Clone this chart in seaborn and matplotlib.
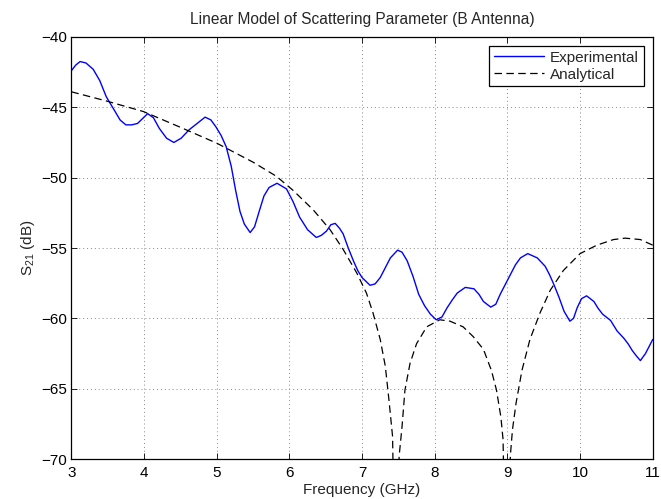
import numpy as np
import pandas as pd
import matplotlib
matplotlib.use("Agg")
import matplotlib.pyplot as plt
import seaborn as sns

# Experimental S21 curve (GHz, dB)
exp_freq = [3.00, 3.06, 3.12, 3.20, 3.30, 3.39, 3.48, 3.59, 3.67, 3.75, 3.83, 3.91,
            3.98, 4.05, 4.13, 4.21, 4.31, 4.41, 4.51, 4.62, 4.73, 4.84, 4.92, 4.99,
            5.06, 5.13, 5.20, 5.26, 5.32, 5.38, 5.46, 5.52, 5.59, 5.65, 5.72, 5.83,
            5.96, 6.05, 6.14, 6.25, 6.37, 6.44, 6.51, 6.57, 6.63, 6.69, 6.74, 6.81,
            6.88, 6.94, 7.00, 7.11, 7.18, 7.25, 7.32, 7.39, 7.49, 7.55, 7.62, 7.70,
            7.78, 7.86, 7.94, 8.02, 8.10, 8.17, 8.24, 8.31, 8.42, 8.54, 8.61, 8.67,
            8.77, 8.84, 8.90, 8.97, 9.04, 9.11, 9.18, 9.28, 9.41, 9.52, 9.58, 9.64,
            9.71, 9.78, 9.86, 9.91, 9.96, 10.02, 10.09, 10.19, 10.25, 10.31, 10.42,
            10.51, 10.60, 10.66, 10.72, 10.78, 10.83, 10.90, 10.95, 11.00]
exp_db = [-42.4, -42.0, -41.75, -41.85, -42.3, -43.1, -44.25, -45.2, -45.9, -46.25,
          -46.25, -46.15, -45.8, -45.45, -45.75, -46.5, -47.2, -47.5, -47.2, -46.6,
          -46.15, -45.7, -45.9, -46.4, -47.0, -47.8, -49.2, -50.9, -52.4, -53.3,
          -53.9, -53.5, -52.3, -51.3, -50.7, -50.4, -50.8, -51.7, -52.8, -53.7,
          -54.25, -54.1, -53.8, -53.35, -53.25, -53.6, -54.0, -55.0, -55.9, -56.6,
          -57.1, -57.65, -57.55, -57.1, -56.4, -55.7, -55.15, -55.3, -55.9, -57.0,
          -58.3, -59.1, -59.7, -60.1, -59.9, -59.25, -58.7, -58.2, -57.8, -57.9,
          -58.3, -58.8, -59.2, -59.0, -58.3, -57.6, -56.9, -56.2, -55.7, -55.4,
          -55.7, -56.3, -56.9, -57.6, -58.5, -59.5, -60.2, -60.0, -59.25, -58.6,
          -58.4, -58.8, -59.3, -59.7, -60.15, -60.9, -61.4, -61.8, -62.3, -62.7,
          -63.0, -62.5, -62.0, -61.5]

# Analytical S21 curve (GHz, dB)
ana_freq = [3.00, 3.48, 3.99, 4.49, 5.00, 5.50, 5.82, 6.05, 6.33, 6.56, 6.74, 6.93,
            7.06, 7.15, 7.25, 7.32, 7.37, 7.42, 7.47, 7.51, 7.55, 7.59, 7.66, 7.75,
            7.89, 8.07, 8.21, 8.39, 8.53, 8.67, 8.78, 8.85, 8.91, 8.94, 9.00, 9.04,
            9.07, 9.12, 9.20, 9.31, 9.45, 9.59, 9.77, 10.00, 10.23, 10.46, 10.62,
            10.83, 11.00]
ana_db = [-43.9, -44.55, -45.3, -46.4, -47.55, -48.9, -49.9, -50.9, -52.3, -53.7,
          -55.1, -56.8, -58.2, -59.6, -61.5, -63.4, -65.8, -68.4, -85.0, -69.8,
          -67.7, -65.1, -63.2, -61.8, -60.6, -60.1, -60.2, -60.6, -61.3, -62.2,
          -63.7, -65.1, -67.0, -68.6, -85.0, -69.8, -67.9, -66.0, -63.7, -61.5,
          -59.6, -58.0, -56.6, -55.4, -54.8, -54.4, -54.3, -54.4, -54.8]

df_exp = pd.DataFrame({"f": exp_freq, "s": exp_db})
df_ana = pd.DataFrame({"f": ana_freq, "s": ana_db})

sns.set_theme(style="white")
plt.rcParams["font.family"] = ["Liberation Sans", "DejaVu Sans"]
plt.rcParams["mathtext.fontset"] = "custom"
plt.rcParams["mathtext.rm"] = "Liberation Sans"
plt.rcParams["mathtext.it"] = "Liberation Sans"

fig = plt.figure(figsize=(6.61, 4.99), dpi=100)
ax = fig.add_axes([0.108, 0.080, 0.8795, 0.846])

DASH = [6, 3.5]
sns.lineplot(data=df_exp, x="f", y="s", ax=ax, color="#0000ff", lw=1.0,
             label="Experimental", sort=False, estimator=None)
sns.lineplot(data=df_ana, x="f", y="s", ax=ax, color="black", lw=0.9,
             label="Analytical", sort=False, estimator=None)
ax.lines[1].set_dashes(DASH)

ax.set_xlim(3, 11)
ax.set_ylim(-70, -40)
ax.set_xticks(range(3, 12))
ax.set_yticks(range(-70, -39, 5))
ax.set_yticklabels([f"\u2212{abs(v)}" for v in range(-70, -39, 5)])
ax.grid(True, color="#888888", linestyle=(0, (1, 3)), linewidth=0.7)
ax.tick_params(direction="in", length=4, width=0.6, top=True, right=True,
               labelsize=11, colors="black", bottom=True, left=True, pad=3)
ax.tick_params(axis="x", pad=5)
for sp in ax.spines.values():
    sp.set_color("black")
    sp.set_linewidth(0.9)

ax.set_title("Linear Model of Scattering Parameter (B Antenna)", fontsize=11.2, pad=9)
ax.set_xlabel("Frequency (GHz)", fontsize=11, labelpad=2)
ax.set_ylabel("S$_{21}$ (dB)", fontsize=11, labelpad=3)

leg = ax.legend(loc="upper right", fontsize=11, frameon=True, fancybox=False,
                borderpad=0.3, handlelength=3.3, handletextpad=0.4,
                labelspacing=0.2, borderaxespad=0.6)
leg.get_frame().set_edgecolor("black")
leg.get_frame().set_linewidth(0.9)
leg.get_frame().set_alpha(1)
leg.get_lines()[1].set_dashes(DASH)

fig.savefig("out.png", dpi=100)
